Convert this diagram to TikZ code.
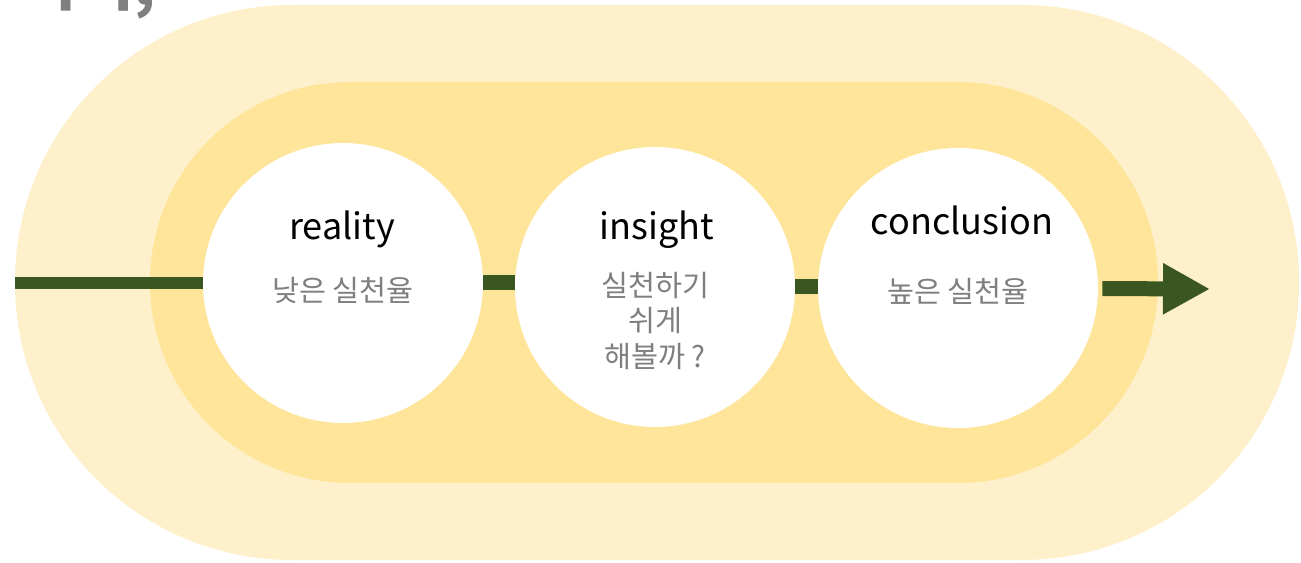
\documentclass[tikz,border=0pt]{standalone}
\usepackage{xcolor}
\usepackage{fontspec}
\setmainfont{Noto Sans CJK KR}
\usetikzlibrary{arrows.meta,positioning}

\definecolor{bandout}{HTML}{FFF0CC}
\definecolor{bandin}{HTML}{FFE599}
\definecolor{pathgreen}{HTML}{3A5722}
\definecolor{notegray}{HTML}{7F7F7F}

\begin{document}
\begin{tikzpicture}[x=0.02cm, y=-0.02cm,
    stage/.style={circle, fill=white, minimum size=5.6cm, inner sep=0pt},
    title/.style={anchor=base, font=\fontsize{20.5}{24}\selectfont},
    note/.style={text=notegray, align=center, font=\fontsize{16.7}{20.4}\selectfont},
    link/.style={draw=pathgreen, line width=0.3cm}]
    \clip (0,0) rectangle (1301,563);
    \useasboundingbox (0,0) rectangle (1301,563);

    % Background
    \fill[bandout, rounded corners=5.54cm] (15,5) rectangle (1299,560);
    \fill[bandin, rounded corners=4.0cm] (150,82) rectangle (1158,483);
    \node[anchor=base east, text=notegray, font=\bfseries\fontsize{34}{40}\selectfont] (head) at (162,6) {아이,};

    % Stages
    \node[stage] (reality) at (343,283) {};
    \node[stage] (insight) at (655,287) {};
    \node[stage] (conclusion) at (958,288) {};

    \node[title] (realitytitle) at (342,240) {reality};
    \node[title] (insighttitle) at (657,240) {insight};
    \node[title] (conclusiontitle) at (962,235) {conclusion};

    \node[note] (realitynote) at (343,290) {낮은 실천율};
    \node[note] (insightnote) at (655,321) {실천하기\\쉬게\\해볼까 ?};
    \node[note] (conclusionnote) at (958,291) {높은 실천율};

    % Connectors
    \coordinate (start) at (15,283);
    \coordinate (goal) at (1210,289);
    \draw[link, line width=0.24cm] (start) -- (reality);
    \draw[link] (reality.east) -- (reality.east -| insight.west);
    \draw[link] (insight.east) -- (insight.east -| conclusion.west);
    \draw[link, shorten <=0.08cm, -{Triangle[length=0.94cm, width=0.96cm]}] (conclusion) -- (goal);
\end{tikzpicture}
\end{document}
